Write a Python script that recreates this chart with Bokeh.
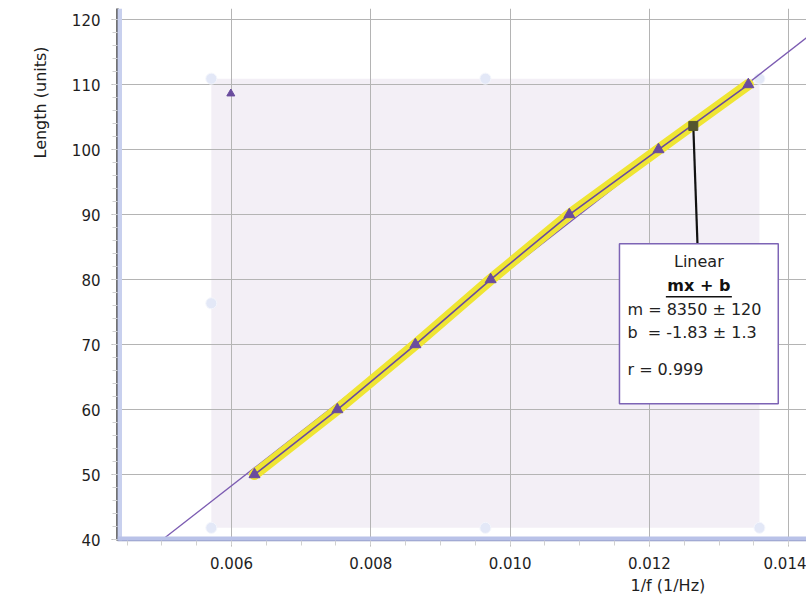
from bokeh.plotting import figure
from bokeh.models import Range1d, Span, Label, FixedTicker, Title, PrintfTickFormatter
from bokeh.embed import file_html
from bokeh.resources import INLINE

# ---- data ----
inv_f = [0.00633, 0.00752, 0.00864, 0.00972, 0.01085, 0.01213, 0.01342]
length = [50, 60, 70, 80, 90, 100, 110]
extra_x = [0.00599]
extra_y = [108.6]

fit_m = 8350.0
fit_b = -1.83
anchor_x = 0.01263

region_x = [0.00571, 0.01358]
region_y = [41.8, 110.9]

x_ticks = [0.006, 0.008, 0.010, 0.012, 0.014]
y_ticks = [40, 50, 60, 70, 80, 90, 100, 110, 120]

box_x = [0.01157, 0.01385]
box_y = [60.9, 85.5]
fit_lines = ["Linear", "mx + b", "m = 8350 ± 120", "b \u00a0= -1.83 ± 1.3", "r = 0.999"]

FONT = "DejaVu Sans"
PURPLE = "#6a4c9e"

W, H = 806, 600
BL, BT, BB = 117, 8, 60
FW, FH = W - BL, H - BT - BB
px_per_x = 69650.0
px_per_y = 6.5
x0 = 0.004363
x1 = x0 + FW / px_per_x
y0 = 39.85
y1 = y0 + FH / px_per_y

p = figure(width=W, height=H, output_backend="svg", toolbar_location=None,
           x_range=Range1d(x0, x1), y_range=Range1d(y0, y1),
           min_border_left=BL, min_border_right=0, min_border_top=BT,
           min_border_bottom=BB)
p.outline_line_color = None
p.background_fill_color = "white"

# axes
for ax in (p.xaxis[0], p.yaxis[0]):
    ax.major_label_text_font = FONT
    ax.major_label_text_font_size = "15px"
    ax.major_label_text_color = "#1e1e1e"
    ax.major_tick_in = 0
    ax.major_tick_out = 6
    ax.major_tick_line_color = "#b0b0b0"
    ax.minor_tick_in = 0
    ax.minor_tick_out = 5
    ax.minor_tick_line_color = "#d0d0d0"
p.xaxis[0].major_label_standoff = 10
p.yaxis[0].major_label_standoff = 11
p.xaxis.ticker = FixedTicker(ticks=x_ticks,
                             minor_ticks=[x_ticks[0] - 0.002 + i * 0.0005 for i in range(25)])
p.yaxis.ticker = FixedTicker(ticks=y_ticks,
                             minor_ticks=[y_ticks[0] - 10 + i * 2 for i in range(50)])
p.xaxis.formatter = PrintfTickFormatter(format="%.3f")
p.xaxis[0].axis_line_color = "#8a93c0"
p.xaxis[0].axis_line_width = 1.5
p.yaxis[0].axis_line_color = "#444444"
p.yaxis[0].axis_line_width = 2.5

p.xgrid.ticker = FixedTicker(ticks=x_ticks)
p.ygrid.ticker = FixedTicker(ticks=y_ticks)
p.grid.grid_line_color = "#b4b4b4"
p.grid.grid_line_width = 1

# axis titles
p.add_layout(Title(text="Length (units)", align="left", offset=382, standoff=37,
                   text_font=FONT, text_font_size="16px", text_font_style="normal",
                   text_color="#1e1e1e"), "left")
p.add_layout(Title(text="1/f (1/Hz)", align="left", offset=513, standoff=4,
                   text_font=FONT, text_font_size="16px", text_font_style="normal",
                   text_color="#1e1e1e"), "below")

# selection region
p.quad(left=[region_x[0]], right=[region_x[1]], bottom=[region_y[0]], top=[region_y[1]],
       fill_color="#f3eff6", line_color=None, level="underlay")
hx = [region_x[0], (region_x[0] + region_x[1]) / 2, region_x[1]]
hy = [region_y[0], (region_y[0] + region_y[1]) / 2, region_y[1]]
handle_x, handle_y = [], []
for i, xx in enumerate(hx):
    for j, yy in enumerate(hy):
        if i == 1 and j == 1:
            continue
        handle_x.append(xx)
        handle_y.append(yy)
p.scatter(handle_x, handle_y, marker="circle", size=11, fill_color="#e3e8f7",
          line_color="#f4f6fc", line_width=1)

# axis shading bands
p.add_layout(Span(location=x0, dimension="height", line_color="#c8d0ee", line_width=9))
p.add_layout(Span(location=y0, dimension="width", line_color="#b9c2e8", line_width=8))

# fit line across the plot
fx = [x0, x1]
fy = [fit_m * v + fit_b for v in fx]
p.line(fx, fy, line_color="#7c5cb2", line_width=1.3)

# highlighted data
p.line(inv_f, length, line_color="#efe533", line_width=11, line_cap="round", line_join="round")
p.line(inv_f, length, line_color=PURPLE, line_width=1.6)
p.scatter(inv_f, length, marker="triangle", size=11, fill_color=PURPLE, line_color=PURPLE)
p.scatter(extra_x, extra_y, marker="triangle", size=8, fill_color=PURPLE, line_color=PURPLE)

# fit annotation
anchor_y = fit_m * anchor_x + fit_b
bx_mid = (box_x[0] + box_x[1]) / 2
p.segment(x0=[anchor_x], y0=[anchor_y], x1=[anchor_x + 0.00006], y1=[box_y[1]],
          line_color="#111111", line_width=2.2)
p.scatter([anchor_x], [anchor_y], marker="square", size=9, fill_color="#55552f",
          line_color="#55552f")
p.quad(left=[box_x[0]], right=[box_x[1]], bottom=[box_y[0]], top=[box_y[1]],
       fill_color="white", line_color="#7d64b5", line_width=1.5)

def ybox(px):
    return box_y[1] - px / px_per_y

p.add_layout(Label(x=bx_mid, y=ybox(18), text=fit_lines[0], text_font=FONT,
                   text_font_size="16px", text_align="center", text_baseline="middle",
                   text_color="#222222"))
p.add_layout(Label(x=bx_mid, y=ybox(42), text=fit_lines[1], text_font=FONT,
                   text_font_size="16px", text_font_style="bold", text_align="center",
                   text_baseline="middle", text_color="#111111"))
p.segment(x0=[bx_mid - 33 / px_per_x], y0=[ybox(53)], x1=[bx_mid + 33 / px_per_x],
          y1=[ybox(53)], line_color="#111111", line_width=1.5)
tx = box_x[0] + 8 / px_per_x
for k, off in zip((2, 3, 4), (66, 89, 126)):
    p.add_layout(Label(x=tx, y=ybox(off), text=fit_lines[k], text_font=FONT,
                       text_font_size="16px", text_align="left", text_baseline="middle",
                       text_color="#222222"))

open("out.html", "w").write(file_html(p, INLINE))
